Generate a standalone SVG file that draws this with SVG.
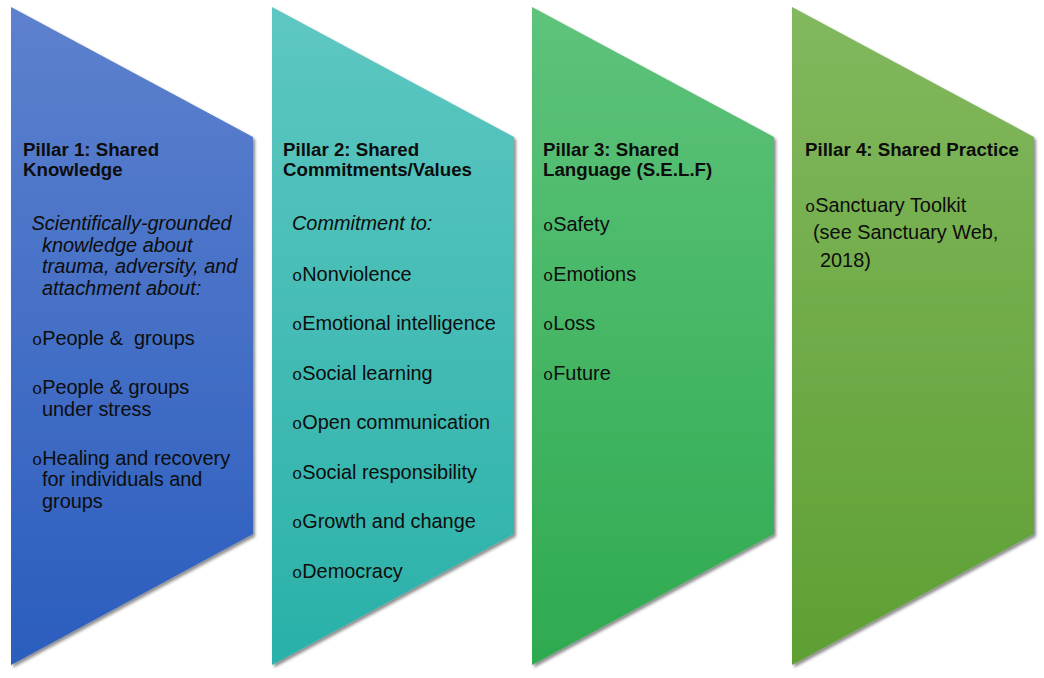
<svg xmlns="http://www.w3.org/2000/svg" width="1044" height="678" viewBox="0 0 1044 678">
  <style>
    .title { font-family: "Liberation Sans", Arial, sans-serif; font-size: 18.7px; font-weight: bold; fill: #0d0d0d; }
    .body { font-family: "Liberation Sans", Arial, sans-serif; font-size: 19.9px; fill: #0d0d0d; white-space: pre; }
    .ital { font-style: italic; }
    .blt { font-family: "Liberation Mono", "Courier New", monospace; font-size: 17px; }
  </style>
  <defs>
    <filter id="shadow" x="-10%" y="-10%" width="125%" height="125%">
      <feDropShadow dx="2" dy="2.5" stdDeviation="1.8" flood-color="#000" flood-opacity="0.45"/>
    </filter>
    <linearGradient id="g1" x1="0" y1="0" x2="0" y2="1">
      <stop offset="0" stop-color="#5D81CE"/>
      <stop offset="1" stop-color="#2B5DBE"/>
    </linearGradient>
    <linearGradient id="g2" x1="0" y1="0" x2="0" y2="1">
      <stop offset="0" stop-color="#5EC7C1"/>
      <stop offset="1" stop-color="#29B1A9"/>
    </linearGradient>
    <linearGradient id="g3" x1="0" y1="0" x2="0" y2="1">
      <stop offset="0" stop-color="#5EC37B"/>
      <stop offset="1" stop-color="#2EAA50"/>
    </linearGradient>
    <linearGradient id="g4" x1="0" y1="0" x2="0" y2="1">
      <stop offset="0" stop-color="#82B85E"/>
      <stop offset="1" stop-color="#5E9F33"/>
    </linearGradient>
  </defs>

  <!-- Pillar 1 -->
  <g id="pillar1">
    <polygon points="11,7 253,137 253,534 11,665" fill="url(#g1)" filter="url(#shadow)"/>
    <text class="title" x="23" y="156">Pillar 1: Shared</text>
    <text class="title" x="23" y="176">Knowledge</text>
    <text class="body ital" x="31.5" y="230">Scientifically-grounded</text>
    <text class="body ital" x="42" y="251.5">knowledge about</text>
    <text class="body ital" x="42" y="273">trauma, adversity, and</text>
    <text class="body ital" x="42" y="294.5">attachment about:</text>
    <text class="body" x="32" y="345" xml:space="preserve"><tspan class="blt">o</tspan>People &amp;  groups</text>
    <text class="body" x="32" y="394"><tspan class="blt">o</tspan>People &amp; groups</text>
    <text class="body" x="42" y="415.5">under stress</text>
    <text class="body" x="32" y="465"><tspan class="blt">o</tspan>Healing and recovery</text>
    <text class="body" x="42" y="486">for individuals and</text>
    <text class="body" x="42" y="507.5">groups</text>
  </g>

  <!-- Pillar 2 -->
  <g id="pillar2">
    <polygon points="272,7 514,137 514,534 272,665" fill="url(#g2)" filter="url(#shadow)"/>
    <text class="title" x="283" y="156">Pillar 2: Shared</text>
    <text class="title" x="283" y="176">Commitments/Values</text>
    <text class="body ital" x="292" y="230">Commitment to:</text>
    <text class="body" x="292" y="280.5"><tspan class="blt">o</tspan>Nonviolence</text>
    <text class="body" x="292" y="330"><tspan class="blt">o</tspan>Emotional intelligence</text>
    <text class="body" x="292" y="379.5"><tspan class="blt">o</tspan>Social learning</text>
    <text class="body" x="292" y="429"><tspan class="blt">o</tspan>Open communication</text>
    <text class="body" x="292" y="478.5"><tspan class="blt">o</tspan>Social responsibility</text>
    <text class="body" x="292" y="528"><tspan class="blt">o</tspan>Growth and change</text>
    <text class="body" x="292" y="578"><tspan class="blt">o</tspan>Democracy</text>
  </g>

  <!-- Pillar 3 -->
  <g id="pillar3">
    <polygon points="532,7 774,137 774,534 532,665" fill="url(#g3)" filter="url(#shadow)"/>
    <text class="title" x="543" y="156">Pillar 3: Shared</text>
    <text class="title" x="543" y="176">Language (S.E.L.F)</text>
    <text class="body" x="543" y="231"><tspan class="blt">o</tspan>Safety</text>
    <text class="body" x="543" y="280.5"><tspan class="blt">o</tspan>Emotions</text>
    <text class="body" x="543" y="330"><tspan class="blt">o</tspan>Loss</text>
    <text class="body" x="543" y="379.5"><tspan class="blt">o</tspan>Future</text>
  </g>

  <!-- Pillar 4 -->
  <g id="pillar4">
    <polygon points="792,7 1034,137 1034,534 792,665" fill="url(#g4)" filter="url(#shadow)"/>
    <text class="title" x="805" y="155.5">Pillar 4: Shared Practice</text>
    <text class="body" x="805" y="211.5"><tspan class="blt">o</tspan>Sanctuary Toolkit</text>
    <text class="body" x="813" y="239">(see Sanctuary Web,</text>
    <text class="body" x="820" y="266.5">2018)</text>
  </g>

  <!-- no connectors in this diagram -->
  <g id="connectors"/>
</svg>
